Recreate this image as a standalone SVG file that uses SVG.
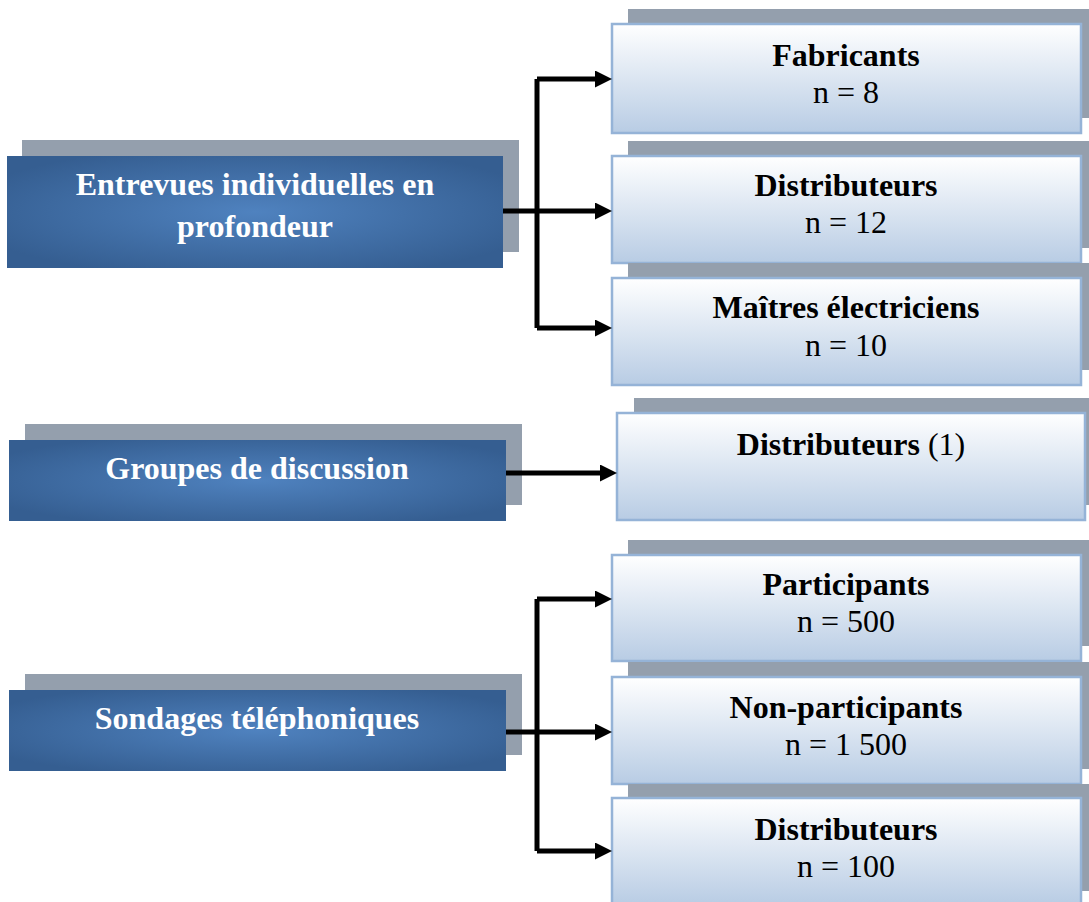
<svg xmlns="http://www.w3.org/2000/svg" width="1089" height="902" viewBox="0 0 1089 902">
<defs>
<radialGradient id="gBlue" cx="50%" cy="50%" r="60%">
<stop offset="0" stop-color="#4f82bf"/>
<stop offset="1" stop-color="#355e91"/>
</radialGradient>
<linearGradient id="gLight" x1="0" y1="0" x2="0" y2="1">
<stop offset="0" stop-color="#ffffff"/>
<stop offset="1" stop-color="#b8cce4"/>
</linearGradient>
<marker id="arr" markerUnits="userSpaceOnUse" markerWidth="18" markerHeight="18" refX="7" refY="8.5" orient="auto">
<path d="M0,0 L17,8.5 L0,17 Z" fill="#000"/>
</marker>
<style>
.sh{fill:#949fad}
.lb{fill:url(#gBlue)}
.rb{fill:url(#gLight);stroke:#95b3d7;stroke-width:2.5}
.lt{font-family:"Liberation Serif","Times New Roman",serif;font-weight:bold;font-size:32px;fill:#fff;text-anchor:middle}
.tb{font-family:"Liberation Serif","Times New Roman",serif;font-weight:bold;font-size:32px;fill:#000;text-anchor:middle}
.tn{font-family:"Liberation Serif","Times New Roman",serif;font-size:32px;fill:#000;text-anchor:middle}
.c{fill:none;stroke:#000;stroke-width:5;stroke-linejoin:round}
</style>
</defs>
<rect width="1089" height="902" fill="#fff"/>

<g id="entrevues">
<rect class="sh" x="22" y="140" width="497" height="112"/>
<rect class="lb" x="7" y="156" width="496" height="112"/>
<text class="lt" x="255" y="195">Entrevues individuelles en</text>
<text class="lt" x="255" y="237">profondeur</text>
</g>

<g id="groupes">
<rect class="sh" x="25" y="424" width="497" height="81"/>
<rect class="lb" x="9" y="440" width="497" height="81"/>
<text class="lt" x="257" y="479">Groupes de discussion</text>
</g>

<g id="sondages">
<rect class="sh" x="25" y="674" width="497" height="81"/>
<rect class="lb" x="9" y="690" width="497" height="81"/>
<text class="lt" x="257" y="729">Sondages téléphoniques</text>
</g>

<g id="fabricants">
<rect class="sh" x="628" y="9" width="469" height="109"/>
<rect class="rb" x="612" y="24" width="469" height="109"/>
<text class="tb" x="846" y="66">Fabricants</text>
<text class="tn" x="846" y="103">n = 8</text>
</g>

<g id="distributeurs1">
<rect class="sh" x="628" y="141" width="469" height="107"/>
<rect class="rb" x="612" y="156" width="469" height="107"/>
<text class="tb" x="846" y="196">Distributeurs</text>
<text class="tn" x="846" y="233">n = 12</text>
</g>

<g id="maitres">
<rect class="sh" x="628" y="263" width="469" height="107"/>
<rect class="rb" x="612" y="278" width="469" height="107"/>
<text class="tb" x="846" y="318">Maîtres électriciens</text>
<text class="tn" x="846" y="356">n = 10</text>
</g>

<g id="distributeurs2">
<rect class="sh" x="634" y="398" width="469" height="107"/>
<rect class="rb" x="617" y="413" width="468" height="107"/>
<text class="tb" x="851" y="455">Distributeurs <tspan font-weight="normal">(1)</tspan></text>
</g>

<g id="participants">
<rect class="sh" x="628" y="540" width="469" height="106"/>
<rect class="rb" x="612" y="555" width="469" height="106"/>
<text class="tb" x="846" y="595">Participants</text>
<text class="tn" x="846" y="632">n = 500</text>
</g>

<g id="nonparticipants">
<rect class="sh" x="628" y="662" width="469" height="107"/>
<rect class="rb" x="612" y="677" width="469" height="107"/>
<text class="tb" x="846" y="718">Non-participants</text>
<text class="tn" x="846" y="755">n = 1 500</text>
</g>

<g id="distributeurs3">
<rect class="sh" x="628" y="784" width="469" height="107"/>
<rect class="rb" x="612" y="798" width="469" height="107"/>
<text class="tb" x="846" y="840">Distributeurs</text>
<text class="tn" x="846" y="877">n = 100</text>
</g>

<g id="connectors">
<path class="c" d="M503,211 H537"/>
<path class="c" d="M537,79 V328"/>
<path class="c" d="M537,79 H602" marker-end="url(#arr)"/>
<path class="c" d="M537,211 H602" marker-end="url(#arr)"/>
<path class="c" d="M537,328 H602" marker-end="url(#arr)"/>
<path class="c" d="M506,473 H607" marker-end="url(#arr)"/>
<path class="c" d="M506,732 H537"/>
<path class="c" d="M537,599 V851"/>
<path class="c" d="M537,599 H602" marker-end="url(#arr)"/>
<path class="c" d="M537,732 H602" marker-end="url(#arr)"/>
<path class="c" d="M537,851 H602" marker-end="url(#arr)"/>
</g>
</svg>
